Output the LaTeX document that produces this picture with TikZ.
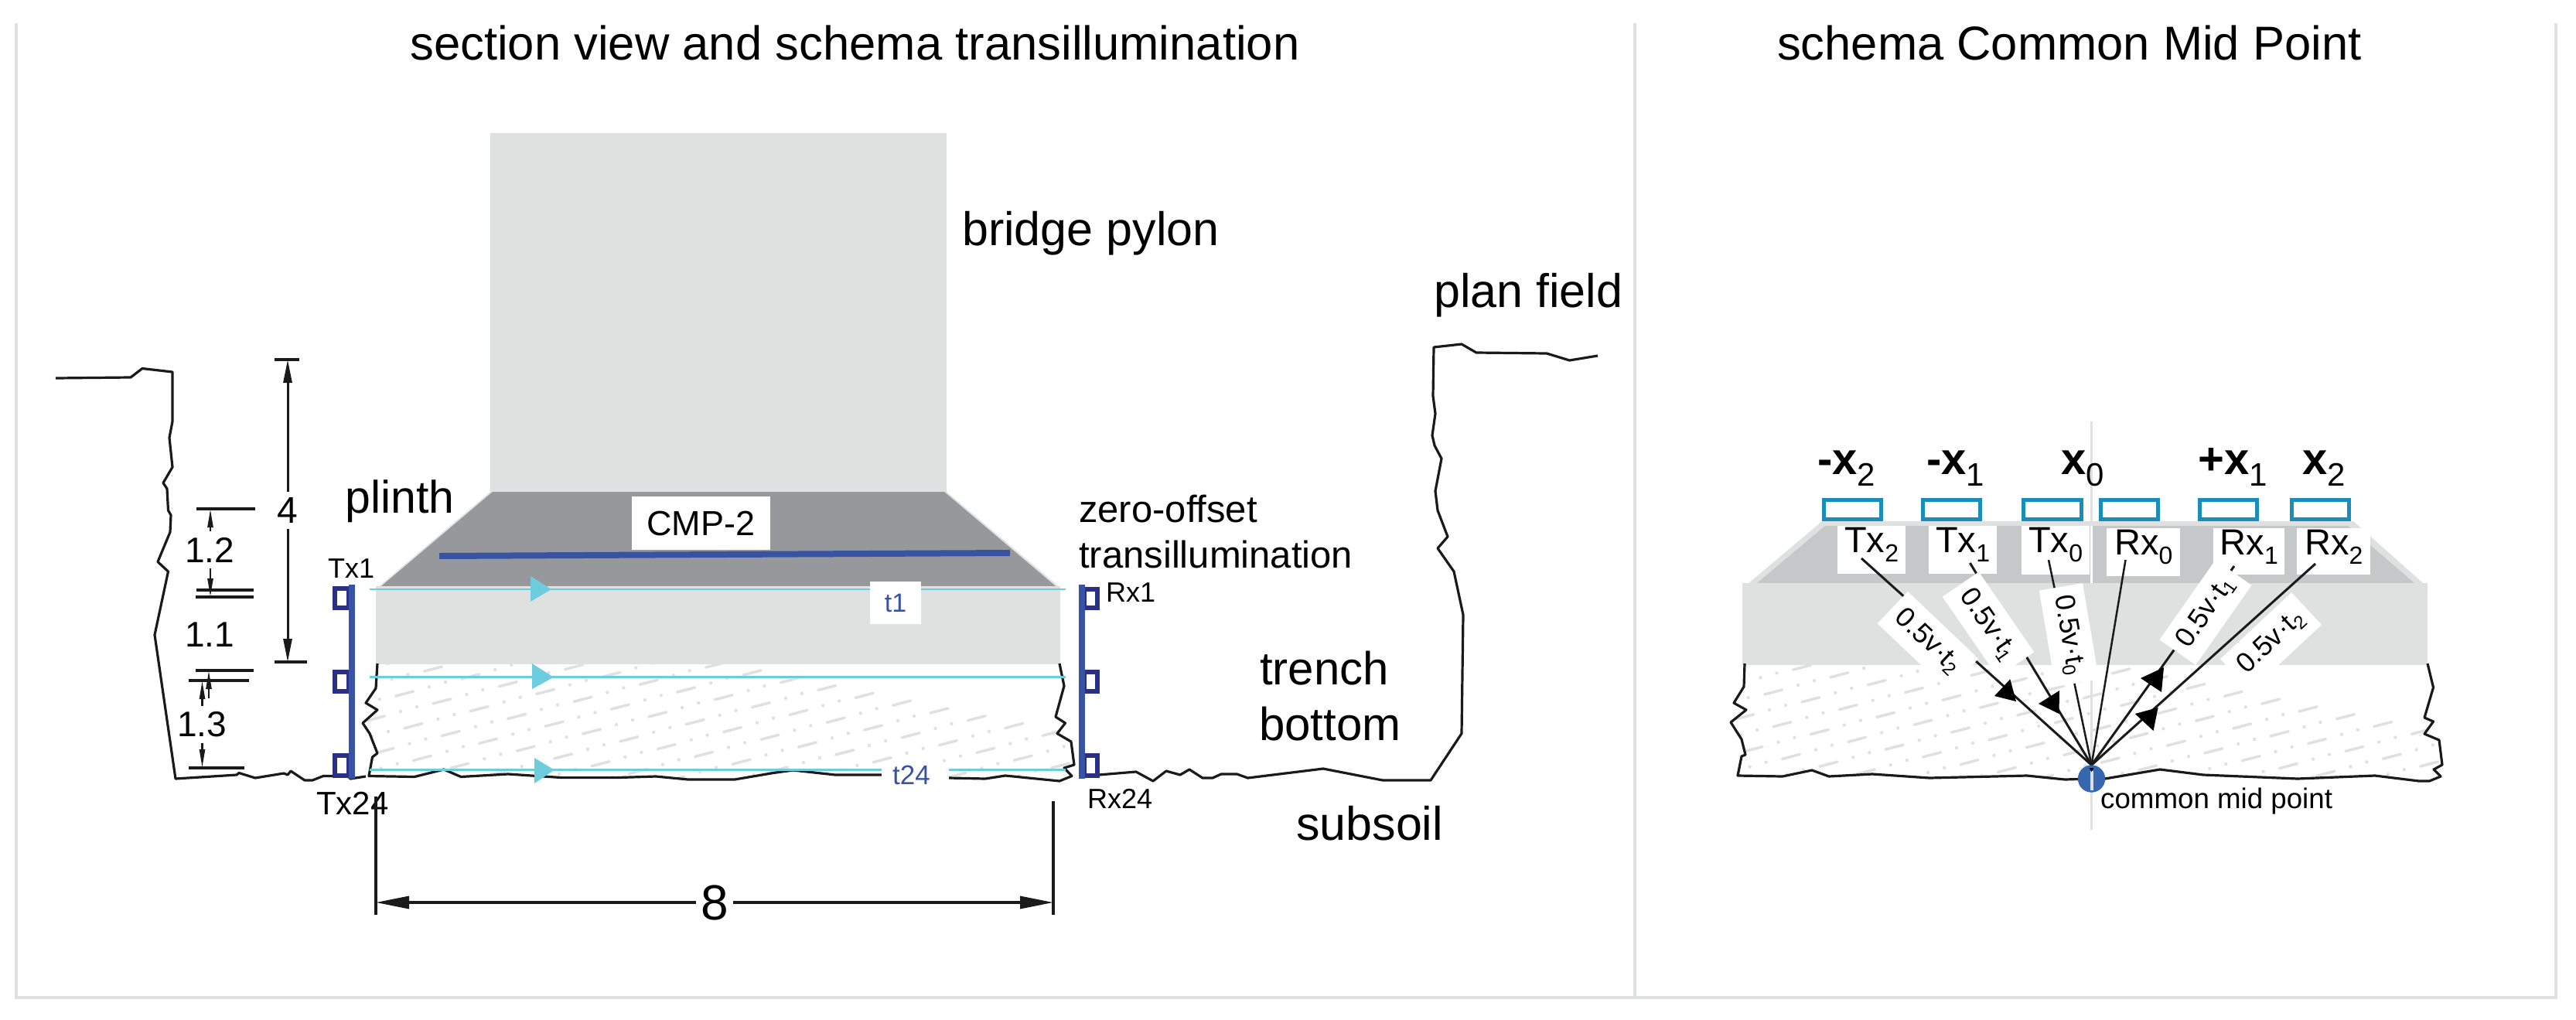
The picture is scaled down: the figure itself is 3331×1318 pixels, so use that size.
\documentclass[tikz,border=0pt]{standalone}
\usepackage{fontspec}
\setmainfont{Liberation Sans}
\usetikzlibrary{arrows.meta}
\definecolor{lightg}{HTML}{DFE1E0}
\definecolor{darkg}{HTML}{97989B}
\definecolor{midg}{HTML}{C6C7C9}
\definecolor{barblue}{HTML}{3953A4}
\definecolor{sensblue}{HTML}{2B3087}
\definecolor{cyanl}{HTML}{6DCDDE}
\definecolor{recblue}{HTML}{1A8DBB}
\definecolor{cmpblue}{HTML}{3568B0}
\definecolor{inkk}{HTML}{1A1A1A}
\newcommand\fsz[1]{\fontsize{#1}{#1}\selectfont}
\newcommand\subt[1]{\raisebox{-6pt}{\fsz{24}#1}}
\newcommand\sublab[1]{\raisebox{-12pt}{\fsz{32}#1}}
\newcommand\subtop[1]{\raisebox{-15pt}{\fsz{42}\mdseries #1}}
\def\soilA{(488,858) -- (486,890) -- (473,909) -- (488,918) -- (469,935) -- (478,948.5) -- (488,974) -- (481.5,979) -- (477,1003.5) -- (536,1004.5) -- (574,995) -- (596,1004.5) -- (657,1001) -- (727,1005.6) -- (797,1005.6) -- (848,1004) -- (890,1008) -- (950,1008) -- (1000,999.5) -- (1025.5,996) -- (1080,1002) -- (1140,1002) -- (1227,1006) -- (1274,1007) -- (1300,1003) -- (1370,1010) -- (1386,1003.5) -- (1376,993) -- (1389,989) -- (1385,959) -- (1367,948.5) -- (1377.5,935) -- (1365,927) -- (1376,887) -- (1370,858)}
\def\soilB{(2256,858) -- (2255,888) -- (2242,909) -- (2258,918) -- (2238,934) -- (2252,956) -- (2257,976) -- (2252,978) -- (2247,1003) -- (2305,1004) -- (2343,996) -- (2365,1004) -- (2421,1001) -- (2495,1006) -- (2621,1003) -- (2670,1008) -- (2704.5,1007) -- (2722,1007) -- (2793,995) -- (2849,1002) -- (2971,1007) -- (3071,1003) -- (3128,1010) -- (3141.5,1010) -- (3156,1004) -- (3147,995) -- (3158,989) -- (3154,957) -- (3135,949) -- (3146.5,933) -- (3135,928) -- (3146.5,889) -- (3139,858)}
\tikzset{
  frameline/.style={draw=lightg,line width=3.5pt},
  ground/.style={draw=inkk,line width=3.2pt,line join=round},
  tick/.style={draw=inkk,line width=3.5pt},
  dimbig/.style={draw=inkk,line width=3pt,-{Triangle[length=30pt,width=11pt]}},
  dimwide/.style={draw=inkk,line width=3.5pt,-{Triangle[length=43pt,width=16pt]}},
  dimsmall/.style={draw=inkk,line width=2.5pt,-{Triangle[length=24pt,width=7pt]}},
  txt/.style={inner sep=0pt,anchor=base west,text=black,font=\fsz{#1}},
  mid/.style={inner sep=0pt,text=black,font=\fsz{#1}},
  sensbar/.style={draw=barblue,line width=8pt},
  sensor/.style={draw=sensblue,line width=6pt},
  cyanline/.style={draw=cyanl,line width=2.5pt},
  receiver/.style={draw=recblue,line width=5pt},
  lab/.style n args={2}{anchor=base west,fill=white,inner ysep=0pt,inner xsep=#1,text height=34pt,text depth=#2,font=\fsz{47},text=black},
  ray/.style={draw=inkk,line width=3pt},
  thinray/.style={draw=inkk,line width=2.5pt},
  vbox/.style={fill=white,minimum width=126pt,minimum height=57pt,inner sep=0pt,font=\fsz{36},text=black},
  dashd/.style={draw=lightg,line width=3.5pt,line cap=round},
}
\begin{document}
\begin{tikzpicture}[x=1pt,y=-1pt]
\useasboundingbox (0,0) rectangle (3331,1318);
% frame
\draw[frameline] (21,30) -- (21,1290) -- (3305,1290) -- (3305,30);
\draw[frameline] (2114,30) -- (2114,1290);
% titles
\node[txt=61.6] (title1) at (530,77) {section view and schema transillumination};
\node[txt=61.5] (title2) at (2298,77) {schema Common Mid Point};
% ---- left section: soil texture
\begin{scope}
\clip \soilA -- cycle;
\foreach \i in {-2,...,21}{\foreach \j in {-3,...,4}{
  \pgfmathsetmacro\cx{523+48.4*\i+11.5*\j}
  \pgfmathsetmacro\cy{897+9.8*\i+41.7*\j}
  \draw[dashd] (\cx-11.5,\cy+3) -- (\cx+11.5,\cy-3);
  \fill[lightg] (\cx+16,\cy+17) circle (2.2pt);
  \fill[lightg] (\cx-5,\cy+23) circle (2.2pt);
}}
\end{scope}
% ---- pylon, plinth, block
\fill[lightg] (634,172) rectangle (1224,636);
\fill[lightg] (488,760) -- (634,636) -- (1224,636) -- (1371,760) -- cycle;
\fill[darkg] (493,758) -- (637,636) -- (1221,636) -- (1365,758) -- cycle;
\fill[lightg] (486,758) rectangle (1371,859);
% grounds
\draw[ground] (72,489) -- (169,488) -- (184,476.5) -- (223,481) -- (223,545) -- (219,566) -- (223,604) -- (211,624.5) -- (216,632) -- (217.5,660) -- (221,666) -- (220,688) -- (204,726.5) -- (217.5,739) -- (200,821) -- (227,1007) -- (306,1002) -- (309,999.5) -- (330,1006) -- (367,1000) -- (372,1002) -- (376,997) -- (394,1009) -- (404,1009) -- (418,1003.5) -- (450,1003.5) -- (453,1007) -- (473,1004);
\draw[ground] \soilA;
\draw[ground] (1421,1002) -- (1469,998) -- (1491,1010) -- (1508,997) -- (1526,1002) -- (1538,995) -- (1555,1006) -- (1568,1006) -- (1579,1001) -- (1599.5,1001) -- (1613.5,1006) -- (1711,994) -- (1788,1009) -- (1850,1009) -- (1890,948.5) -- (1892,795) -- (1880,739) -- (1859,709) -- (1872,694) -- (1859,660) -- (1856,635) -- (1864,593) -- (1855,576) -- (1852,563) -- (1856,535) -- (1853,512) -- (1854,449) -- (1890,445) -- (1909,456) -- (2000,457) -- (2029.5,466) -- (2066,460);
% CMP-2 bar
\coordinate (bar1) at (568,719);
\coordinate (bar2) at (1306,715);
\draw[sensbar] (bar1) -- (bar2);
\node[fill=white,minimum width=179pt,minimum height=69pt,inner sep=0pt,font=\fsz{45},text=black] (cmp2) at (906.5,676.5) {CMP-2};
% cyan rays
\coordinate (c1l) at (478,762);  \coordinate (c1r) at (1378,762);
\coordinate (c2l) at (478,875.7);\coordinate (c2r) at (1378,875.7);
\coordinate (c3l) at (478,995.7);\coordinate (c3r) at (1378,995.7);
\draw[cyanline] (c1l) -- (c1r);
\draw[cyanline] (c2l) -- (c2r);
\draw[cyanline] (c3l) -- (c3r);
\fill[cyanl] (686,745) -- (713,762) -- (686,778) -- cycle;
\fill[cyanl] (688,858) -- (716,875.7) -- (688,891) -- cycle;
\fill[cyanl] (691,980) -- (717,995.7) -- (691,1013) -- cycle;
\node[fill=white,minimum width=66pt,minimum height=55pt,inner sep=0pt,font=\fsz{34},text=barblue] (t1) at (1158,779.5) {t1};
\node[fill=white,minimum width=87pt,minimum height=34pt,inner sep=0pt] (t24box) at (1183.5,1003) {};
\node[inner sep=0pt,anchor=base west,font=\fsz{35},text=barblue] (t24) at (1154,1014) {t24};
% sensors
\coordinate (txa) at (455,756); \coordinate (txb) at (455,1007);
\coordinate (rxa) at (1398.6,756); \coordinate (rxb) at (1398.6,1007);
\draw[sensor] (433,761) rectangle (451,786);
\draw[sensor] (433,869) rectangle (451,894);
\draw[sensor] (433,977) rectangle (451,1003);
\draw[sensor] (1402,762) rectangle (1419,786);
\draw[sensor] (1402,869) rectangle (1419,894);
\draw[sensor] (1402,977) rectangle (1419,1003);
\draw[sensbar] (txa) -- (txb);
\draw[sensbar] (rxa) -- (rxb);
% left labels
\node[txt=36] (tx1) at (424,747) {Tx1};
\node[txt=42] (tx24) at (409,1053) {Tx24};
\node[txt=36] (rx1) at (1430,778.6) {Rx1};
\node[txt=36] (rx24) at (1406,1045) {Rx24};
\node[txt=61] (pylonl) at (1244,317) {bridge pylon};
\node[txt=61] (fieldl) at (1854,397) {plan field};
\node[txt=59] (plinthl) at (446,663) {plinth};
\node[txt=49] (zo1) at (1395,675.5) {zero-offset};
\node[txt=49] (zo2) at (1395,734) {transillumination};
\node[txt=60] (trench) at (1629,885) {trench};
\node[txt=60] (bottoml) at (1628,957) {bottom};
\node[txt=61] (subsoil) at (1676,1086) {subsoil};
% dimension 4
\node[mid=48,inner ysep=7pt] (d4) at (372,660) {4};
\coordinate (d4t) at (372,465); \coordinate (d4b) at (372,856);
\draw[dimbig] (d4) -- (d4t);
\draw[dimbig] (d4) -- (d4b);
\draw[tick] (355,465) -- (387,465);
\draw[tick] (355,856) -- (397,856);
% dimensions 1.2 1.1 1.3
\node[mid=46,inner ysep=8pt] (d12) at (271,711) {1.2};
\node[mid=46] (d11) at (271,821) {1.1};
\node[mid=46,inner ysep=8pt] (d13) at (261,937) {1.3};
\coordinate (d12t) at (272,658); \coordinate (d12b) at (272,772);
\coordinate (d13t) at (261.5,880); \coordinate (d13b) at (261.5,993);
\coordinate (d11s) at (270,903); \coordinate (d11e) at (270,867);
\draw[dimsmall] (d12.north -| d12t) -- (d12t);
\draw[dimsmall] (d12.south -| d12b) -- (d12b);
\draw[dimsmall] (d13.north -| d13t) -- (d13t);
\draw[dimsmall] (d13.south -| d13b) -- (d13b);
\draw[dimsmall] (d11s) -- (d11e);
\draw[tick] (254,658) -- (330,658);
\draw[tick] (254,763) -- (328,763);
\draw[tick] (253,772) -- (328,772);
\draw[tick] (253,867) -- (328,867);
\draw[tick] (244,880) -- (322,880);
\draw[tick] (244,993) -- (316,993);
% dimension 8
\node[mid=64,inner xsep=6pt] (d8) at (924,1167) {8};
\coordinate (d8l) at (486,1167); \coordinate (d8r) at (1362,1167);
\draw[dimwide] (d8) -- (d8l);
\draw[dimwide] (d8) -- (d8r);
\draw[tick] (486,1030) -- (486,1183);
\draw[tick] (1362,1036) -- (1362,1183);
% ---- right section: soil texture
\begin{scope}
\clip \soilB -- cycle;
\foreach \i in {-1,...,19}{\foreach \j in {-3,...,4}{
  \pgfmathsetmacro\cx{2293+48.4*\i+11.5*\j}
  \pgfmathsetmacro\cy{895+9.8*\i+41.7*\j}
  \draw[dashd] (\cx-11.5,\cy+3) -- (\cx+11.5,\cy-3);
  \fill[lightg] (\cx+16,\cy+17) circle (2.2pt);
  \fill[lightg] (\cx-5,\cy+23) circle (2.2pt);
}}
\end{scope}
\fill[lightg] (2253,761) -- (2356,674) -- (3043,674) -- (3140,760) -- cycle;
\fill[midg] (2272,754) -- (2360,680) -- (3036,680) -- (3122,754) -- cycle;
\fill[lightg] (2253,754) rectangle (3139,860);
\draw[ground] \soilB;
% axis
\coordinate (axt) at (2704.5,545); \coordinate (axb) at (2704.5,1073);
\draw[draw=lightg,line width=3.5pt] (axt) -- (axb);
\draw[draw=white,line width=3.5pt] (2704.5,680) -- (2704.5,754);
% receivers
\draw[receiver] (2358.5,646.5) rectangle (2432.5,671.5);
\draw[receiver] (2486.5,646.5) rectangle (2560.5,671.5);
\draw[receiver] (2616.5,646.5) rectangle (2691.5,671.5);
\draw[receiver] (2716.5,646.5) rectangle (2790.5,671.5);
\draw[receiver] (2844.5,646.5) rectangle (2918.5,671.5);
\draw[receiver] (2963.5,646.5) rectangle (3037.5,671.5);
% top labels
\node[txt=58,font=\fsz{58}\bfseries] (xm2) at (2350,613) {-x\subtop{2}};
\node[txt=58,font=\fsz{58}\bfseries] (xm1) at (2491,613) {-x\subtop{1}};
\node[txt=58,font=\fsz{58}\bfseries] (x0) at (2665,613) {x\subtop{0}};
\node[txt=58,font=\fsz{58}\bfseries] (xp1) at (2842,613) {+x\subtop{1}};
\node[txt=58,font=\fsz{58}\bfseries] (x2) at (2977,613) {x\subtop{2}};
% Tx / Rx labels
\node[lab={9pt}{28pt}] (Tx2) at (2376,714) {Tx\sublab{2}};
\node[lab={9pt}{28pt}] (Tx1) at (2494,714) {Tx\sublab{1}};
\node[lab={9pt}{29pt}] (Tx0) at (2614,714) {Tx\sublab{0}};
\node[lab={10pt}{28pt}] (Rx0) at (2724,717) {Rx\sublab{0}};
\node[lab={8.5pt}{26pt}] (Rx1) at (2862,717) {Rx\sublab{1}};
\node[lab={10pt}{26pt}] (Rx2) at (2970,717) {Rx\sublab{2}};
% common mid point
\node[circle,fill=cmpblue,minimum size=35pt,inner sep=0pt] (cmp) at (2704.5,1007) {};
\coordinate (s2) at (2407,722);
\coordinate (s1) at (2547.4,728);
\coordinate (s0) at (2649,724);
\coordinate (r0) at (2748.5,724);
\coordinate (r1) at (2889,732);
\coordinate (r2) at (2994,729);
\draw[ray] (s2) -- (cmp.north);
\draw[ray] (s1) -- (cmp.north);
\draw[thinray] (s0) -- (cmp.north);
\draw[thinray] (r0) -- (cmp.north);
\draw[ray] (r1) -- (cmp.north);
\draw[ray] (r2) -- (cmp.north);
\fill[black] (2599.3,878.3) -- (2579,900) -- (2607,907) -- cycle;
\fill[black] (2663,893) -- (2636,910) -- (2662.5,923) -- cycle;
\fill[black] (2798,863) -- (2768,877) -- (2795,895) -- cycle;
\fill[black] (2790.6,915) -- (2760.7,923) -- (2784.5,945) -- cycle;
\node[vbox,rotate=-43.5] (v2) at (2493,829) {0.5v·t\subt{2}};
\node[vbox,rotate=-55.5] (v1) at (2571,807.5) {0.5v·t\subt{1}};
\node[vbox,rotate=-80.4] (v0) at (2675.4,821) {0.5v·t\subt{0}};
\node[vbox,rotate=55] (v3) at (2852,792) {0.5v·t\subt{1}};
\node[vbox,rotate=43] (v4) at (2936.5,830) {0.5v·t\subt{2}};
\fill[cmpblue] (cmp.center) circle (17.5pt);
\draw[draw=lightg,line width=4pt] (2704.5,997) -- (2704.5,1022);
\fill[black] (2701.5,993) -- (2707.5,993) -- (2704.5,998) -- cycle;
\node[txt=36.7] (cmpl) at (2716,1045) {common mid point};
\end{tikzpicture}
\end{document}
